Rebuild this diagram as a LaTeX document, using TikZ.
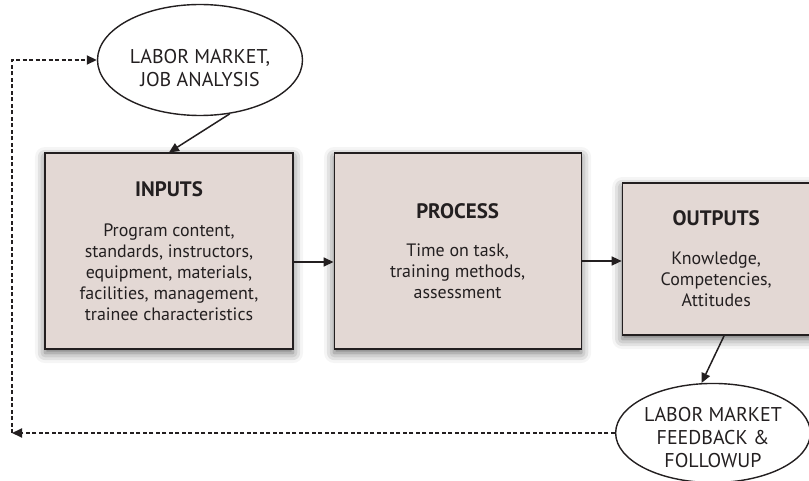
\documentclass[tikz,border=0pt]{standalone}
\usepackage{fontspec}
\setmainfont{PT Sans}
\usetikzlibrary{arrows.meta,positioning,shapes.geometric,shadows.blur}
\definecolor{colBoite}{RGB}{227,216,212}
\definecolor{colTrait}{RGB}{35,31,32}

\begin{document}
\begin{tikzpicture}[x=1bp, y=-1bp, font=\fontsize{18}{21}\selectfont,
    text=colTrait,
    bloc/.style={rectangle, draw=colTrait, line width=1.1bp, fill=colBoite,
      align=center, inner sep=0pt, minimum height=196bp,
      blur shadow={shadow xshift=0bp, shadow yshift=-4bp,
        shadow blur radius=10bp, shadow opacity=60}},
    ell/.style={ellipse, draw=colTrait, line width=1.4bp, fill=white,
      align=center, inner sep=0pt, font=\fontsize{20}{23}\selectfont},
    fl/.style={-{Triangle[length=10bp,width=9bp]}, line width=1.5bp,
      colTrait},
    tir/.style={fl, line width=1.8bp, dash pattern=on 4bp off 2.5bp}]
  \useasboundingbox (0,0) rectangle (809,481);
  % the three stages
  \node[bloc, minimum width=248bp] (inputs) at (169,251)
    {{\bfseries\fontsize{21}{22}\selectfont INPUTS}\\[20bp]
     Program content,\\ standards, instructors,\\ equipment, materials,\\
     facilities, management,\\ trainee characteristics};
  \node[bloc, minimum width=247bp, right=40bp of inputs] (process)
    {{\bfseries\fontsize{21}{22}\selectfont PROCESS}\\[17bp]
     Time on task,\\ training methods,\\ assessment};
  \node[bloc, minimum width=188bp, minimum height=152bp,
    right=40bp of process, yshift=-8bp] (outputs)
    {{\bfseries\fontsize{21}{22}\selectfont OUTPUTS}\\[18bp]
     Knowledge,\\ Competencies,\\ Attitudes};
  % labour market on both ends
  \node[ell, minimum width=205bp, minimum height=111bp] (market) at (200,60)
    {\rule{0pt}{31bp}LABOR MARKET,\\ JOB ANALYSIS};
  \node[ell, minimum width=190bp, minimum height=94bp] (feedback) at (713,433)
    {\rule{0pt}{24bp}LABOR MARKET\\ FEEDBACK \&\\ FOLLOWUP};
  \coordinate (coin) at (12,437);
  \draw[fl] (market.-61) -- (inputs.north);
  \draw[fl] ([yshift=-11bp]inputs.east) -- ([yshift=-11bp]process.west);
  \draw[fl] ([yshift=-10bp]process.east) -- ([yshift=-10bp]process.east -| outputs.west);
  \draw[fl] ([xshift=8bp]outputs.south) -- (feedback.103);
  % feedback loop
  \draw[tir] (feedback.west) -- (feedback.west -| coin);
  \draw[tir] (coin |- feedback.west) -- (coin |- market.west) -- (market.west);
\end{tikzpicture}
\end{document}
